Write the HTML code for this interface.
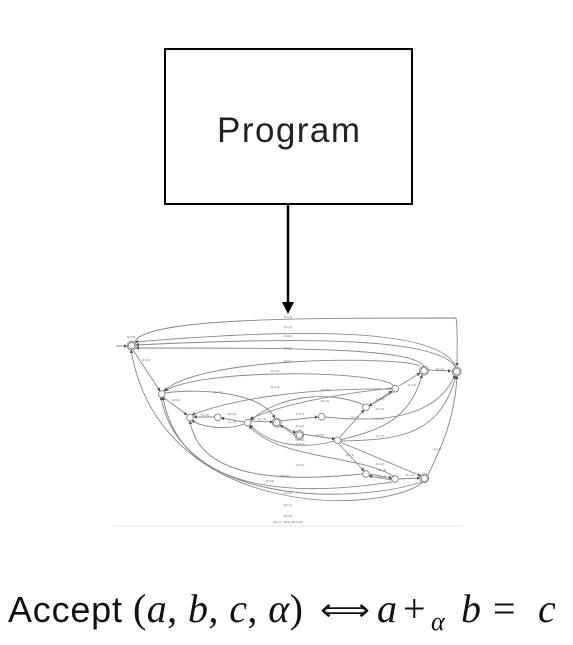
<!DOCTYPE html>
<html><head><meta charset="utf-8"><style>
html,body{margin:0;padding:0;background:#fff;}
svg{display:block;}
</style></head><body>
<svg width="573" height="645" viewBox="0 0 573 645" xmlns="http://www.w3.org/2000/svg">
<defs>
<marker id="sa" markerWidth="4" markerHeight="4" refX="3.5" refY="2" orient="auto"><path d="M0,0 L4,2 L0,4 z" fill="#555"/></marker>
</defs>
<rect x="165" y="49" width="247" height="155" fill="#fff" stroke="#000" stroke-width="2"/>
<text x="288.5" y="142" font-family="Liberation Sans, sans-serif" font-size="35" text-anchor="middle" fill="#222" textLength="143">Program</text>
<line x1="288" y1="204" x2="288" y2="306" stroke="#000" stroke-width="2.5"/>
<path d="M282,302 L294,302 L288,314 z" fill="#000"/>

<g fill="none" stroke="#888" stroke-width="0.9" marker-end="url(#sa)">
<path d="M135,341 C150,318 300,318 456,318 C458,330 457,350 457,366"/>
<path d="M456,367 C440,328 300,328 135,342"/>
<path d="M456,368 C440,337 300,337 136,345"/>
<path d="M424,366 C410,348 300,348 136,348"/>
<path d="M133,350 L160,391"/>
<path d="M420,366 C400,356 200,356 164,391"/>
<path d="M394,386 C380,370 200,368 165,391"/>
<path d="M428,370 L451,371"/>
<path d="M399,386 L420,373"/>
<path d="M163,397 L187,415"/>
<path d="M165,393 C200,388 260,392 275,418"/>
<path d="M214,417 L194,417"/>
<path d="M244,422 L221,418"/>
<path d="M244,424 C230,430 200,428 192,420"/>
<path d="M250,421 L273,422"/>
<path d="M280,421 L318,417"/>
<path d="M325,417 C400,425 440,410 455,375"/>
<path d="M280,425 L296,433"/>
<path d="M296,436 L280,425"/>
<path d="M302,434 L335,439"/>
<path d="M335,441 C300,450 270,445 250,425"/>
<path d="M340,437 L364,410"/>
<path d="M340,440 C380,430 410,420 422,375"/>
<path d="M341,441 C400,440 440,435 456,376"/>
<path d="M340,442 L421,476"/>
<path d="M338,443 L364,471"/>
<path d="M369,406 L392,391"/>
<path d="M393,392 L369,406"/>
<path d="M364,405 C330,390 280,395 251,420"/>
<path d="M392,389 C300,388 230,400 192,415"/>
<path d="M392,388 C330,395 280,405 250,419"/>
<path d="M369,474 L392,478"/>
<path d="M392,480 L369,476"/>
<path d="M398,479 L420,478"/>
<path d="M428,475 C440,450 455,420 457,376"/>
<path d="M393,476 C360,455 280,460 249,426"/>
<path d="M363,474 C300,480 200,485 190,421"/>
<path d="M392,482 C300,496 180,496 163,397"/>
<path d="M422,482 C350,505 180,505 161,397"/>
<path d="M422,483 C380,515 160,520 131,350"/>
<path d="M116,346 L127,346"/>
</g>
<g fill="#fff" stroke="#777" stroke-width="0.8">
<circle cx="131.7" cy="345.7" r="4.5"/><circle cx="131.7" cy="345.7" r="3.2"/>
<circle cx="456.7" cy="371.7" r="4.5"/><circle cx="456.7" cy="371.7" r="3.2"/>
<circle cx="424" cy="370.7" r="4.5"/><circle cx="424" cy="370.7" r="3.2"/>
<circle cx="161.7" cy="394" r="3.3"/>
<circle cx="190" cy="417.7" r="3.3"/>
<circle cx="217.7" cy="417.3" r="3.3"/>
<circle cx="247.7" cy="422.7" r="3.3"/>
<circle cx="276.7" cy="422.7" r="4.5"/><circle cx="276.7" cy="422.7" r="3.2"/>
<circle cx="321.7" cy="416.7" r="3.3"/>
<circle cx="299.3" cy="435" r="4.5"/><circle cx="299.3" cy="435" r="3.2"/>
<circle cx="366" cy="407.3" r="3.3"/>
<circle cx="395.3" cy="388.7" r="3.3"/>
<circle cx="337.7" cy="440.3" r="3.3"/>
<circle cx="366" cy="474" r="3.3"/>
<circle cx="395" cy="479" r="3.3"/>
<circle cx="424.3" cy="478.3" r="4.5"/><circle cx="424.3" cy="478.3" r="3.2"/>
</g>
<g font-family="Liberation Sans, sans-serif" font-size="3" fill="#666" text-anchor="middle">
<text x="288" y="318">(1,0,1)</text><text x="288" y="328">(0,1,1)</text><text x="288" y="337">(0,0,0)</text>
<text x="288" y="349">(0,0,0)</text><text x="288" y="362">(0,0,1)</text><text x="275" y="372">(0,1,0)</text>
<text x="218" y="393">(1,1,0)</text><text x="275" y="388">(0,0,0)</text><text x="325" y="391">(0,0,0)</text>
<text x="325" y="402">(0,1,0)</text><text x="205" y="416">(1,1,0)</text><text x="232" y="415">(0,0,0)</text>
<text x="232" y="423">(1,1,1)</text><text x="262" y="420">(1,1,0)</text><text x="300" y="415">(0,0,0)</text>
<text x="300" y="427">(0,1,0)</text><text x="300" y="441">(1,0,0)</text><text x="320" y="436">(0,0,0)</text>
<text x="300" y="445">(0,0,0)</text><text x="355" y="418">(1,0,1)</text><text x="380" y="400">(1,0,1)</text>
<text x="380" y="410">(0,1,0)</text><text x="412" y="386">(1,0,0)</text><text x="440" y="370">(0,1,1)</text>
<text x="380" y="437">(1,1,1)</text><text x="380" y="420">(1,0,0)</text><text x="437" y="450">(1,0,1)</text>
<text x="350" y="456">(0,1,1)</text><text x="380" y="465">(0,1,0)</text><text x="382" y="471">(0,1,1)</text>
<text x="382" y="478">(1,0,0)</text><text x="410" y="476">(0,1,0)</text><text x="300" y="466">(1,0,0)</text>
<text x="285" y="477">(0,0,0)</text><text x="270" y="482">(0,0,0)</text><text x="288" y="494">(1,0,0)</text>
<text x="288" y="506">(0,0,1)</text><text x="288" y="517">(0,0,0)</text><text x="131" y="338">(0,0,0)</text>
<text x="146" y="361">(0,0,1)</text><text x="176" y="401">(0,0,0)</text>
<text x="288" y="523">(a,b,c): "final_08.smt2"</text>
</g>
<line x1="113" y1="526" x2="463" y2="526" stroke="#e6e6e6" stroke-width="1"/>

<g fill="#111">
<text x="8" y="622" font-family="Liberation Sans, sans-serif" font-size="36" textLength="114">Accept</text>
<text x="133" y="622" font-family="Liberation Serif, serif" font-size="40" textLength="170">(<tspan font-style="italic">a</tspan>, <tspan font-style="italic">b</tspan>, <tspan font-style="italic">c</tspan>, <tspan font-style="italic">α</tspan>)</text>
<text x="320" y="620" font-family="DejaVu Sans, sans-serif" font-size="30" textLength="50" lengthAdjust="spacingAndGlyphs">⟺</text>
<text x="377" y="622" font-family="Liberation Serif, serif" font-size="40" font-style="italic">a</text>
<text x="403" y="622" font-family="Liberation Serif, serif" font-size="40">+</text>
<text x="431" y="630" font-family="Liberation Serif, serif" font-size="26" font-style="italic">α</text>
<text x="461" y="622" font-family="Liberation Serif, serif" font-size="40" font-style="italic">b</text>
<text x="493" y="622" font-family="Liberation Serif, serif" font-size="40">=</text>
<text x="538" y="622" font-family="Liberation Serif, serif" font-size="40" font-style="italic">c</text>
</g>
</svg>
</body></html>
